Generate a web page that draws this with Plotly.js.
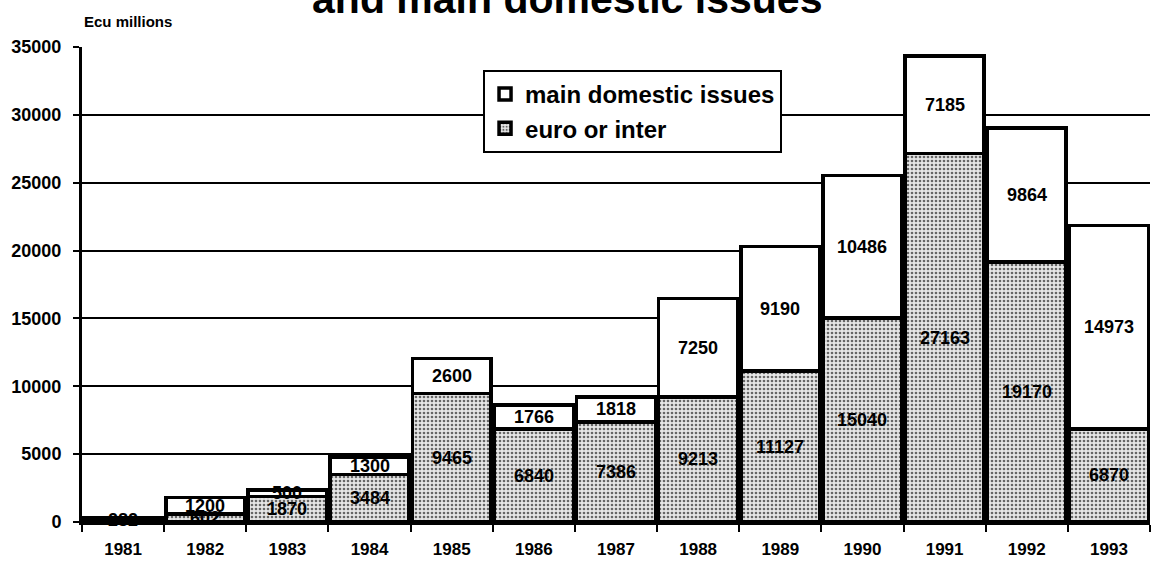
<!DOCTYPE html>
<html>
<head>
<meta charset="utf-8">
<script src="https://cdn.plot.ly/plotly-3.0.1.min.js"></script>
<style>html,body{margin:0;padding:0;background:#fff;}#chart{width:1153px;height:572px;}</style>
</head>
<body>
<div id="chart"></div>
<script>
const years = ["1981","1982","1983","1984","1985","1986","1987","1988","1989","1990","1991","1992","1993"];
const euroOrInter = [282, 602, 1870, 3484, 9465, 6840, 7386, 9213, 11127, 15040, 27163, 19170, 6870];
const mainDomestic = [0, 1200, 500, 1300, 2600, 1766, 1818, 7250, 9190, 10486, 7185, 9864, 14973];
const yTicks = [0, 5000, 10000, 15000, 20000, 25000, 30000, 35000];
const yTickText = ["0", "5000", "10000", "15000", "20000", "25000", "30000", "35000"];

const FONT = "Liberation Sans, Arial, sans-serif";

const traces = [
  {
    type: "bar", name: "euro or inter", x: years, y: euroOrInter,
    marker: {
      color: "#d9d9d9",
      line: {color: "#000", width: 3.5},
      pattern: {shape: ".", fgcolor: "#666", bgcolor: "#e6e6e6", size: 4, solidity: 0.35}
    },
    hoverinfo: "skip"
  },
  {
    type: "bar", name: "main domestic issues", x: years, y: mainDomestic,
    marker: {color: "#fff", line: {color: "#000", width: 3.5}},
    hoverinfo: "skip"
  }
];

const annotations = [];
years.forEach((yr, i) => {
  annotations.push({xref: "x", yref: "y", x: i, y: euroOrInter[i] / 2, text: String(euroOrInter[i]), showarrow: false,
    font: {family: FONT, size: 18, color: "#000", weight: "bold"}});
  if (mainDomestic[i] > 0) {
    annotations.push({xref: "x", yref: "y", x: i, y: euroOrInter[i] + mainDomestic[i] / 2, text: String(mainDomestic[i]), showarrow: false,
      font: {family: FONT, size: 18, color: "#000", weight: "bold"}});
  }
});
annotations.push({xref: "paper", yref: "paper", x: 0, y: 1.032, xanchor: "left", yanchor: "bottom",
  text: "Ecu millions", showarrow: false, font: {family: FONT, size: 15, color: "#000", weight: "bold"}});

const layout = {
  width: 1153, height: 572,
  margin: {l: 82, r: 3, t: 47, b: 50},
  paper_bgcolor: "#fff", plot_bgcolor: "#fff",
  barmode: "stack", bargap: 0.04,
  title: {text: "and main domestic issues", x: 0.492, xanchor: "center", yref: "container", y: 0.978, yanchor: "bottom",
    font: {family: FONT, size: 41, color: "#000", weight: "bold"}},
  font: {family: FONT, color: "#000"},
  xaxis: {
    type: "category", range: [-0.5, 12.5], tickson: "boundaries", ticks: "outside", ticklen: 7, tickwidth: 2, tickcolor: "#000",
    showline: true, linecolor: "#000", linewidth: 3, showgrid: false, tickangle: 0, ticklabelstandoff: 10,
    tickfont: {family: FONT, size: 17, color: "#000", weight: "bold"}
  },
  yaxis: {
    range: [0, 35000], tickmode: "array", tickvals: yTicks, ticktext: yTickText, ticks: "outside", ticklen: 6, tickwidth: 2, tickcolor: "#000",
    showline: true, linecolor: "#000", linewidth: 3, showgrid: true, gridcolor: "#000", gridwidth: 2, ticklabelstandoff: 8,
    zeroline: false, tickfont: {family: FONT, size: 18, color: "#000", weight: "bold"}
  },
  legend: {
    x: 0.3755, y: 0.9516, xanchor: "left", yanchor: "top", traceorder: "reversed",
    bgcolor: "#fff", bordercolor: "#000", borderwidth: 2,
    font: {family: FONT, size: 24, color: "#000", weight: "bold"}
  },
  annotations: annotations,
  showlegend: true
};

Plotly.newPlot("chart", traces, layout, {displayModeBar: false, staticPlot: true});
</script>
</body>
</html>
